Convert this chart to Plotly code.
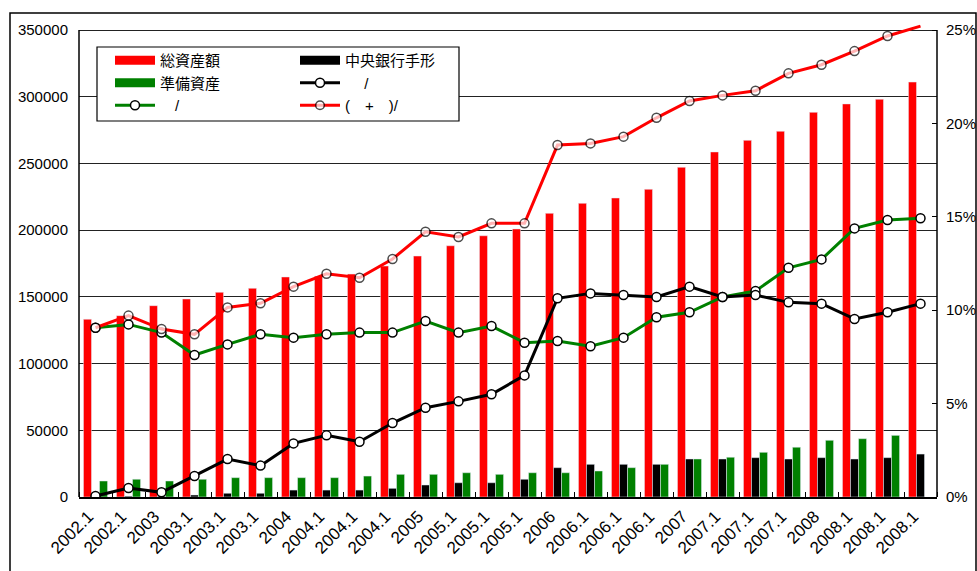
import plotly.graph_objects as go

# Period labels along the bottom axis
periods = ["2002.1", "2002.1", "2003", "2003.1", "2003.1", "2003.1",
           "2004", "2004.1", "2004.1", "2004.1", "2005", "2005.1",
           "2005.1", "2005.1", "2006", "2006.1", "2006.1", "2006.1",
           "2007", "2007.1", "2007.1", "2007.1", "2008", "2008.1",
           "2008.1", "2008.1"]

# Bars (left axis)
total_assets = [133200, 135900, 143400, 148400, 153400, 156400, 164900, 165500,
                167100, 173100, 180600, 188300, 195800, 200900, 212600, 220100,
                224100, 230600, 247100, 258600, 267300, 274100, 288300, 294600,
                298100, 311000]
cb_bills = [100, 650, 350, 1500, 2800, 2800, 5200, 5200, 5200, 6500, 9000,
            10700, 10700, 13300, 22000, 24500, 24500, 24500, 28500, 28500,
            29500, 28500, 29500, 28500, 29500, 32200]
reserves = [12000, 13300, 12000, 13300, 14500, 14500, 14500, 14500, 15700,
            17000, 17000, 18200, 17000, 18200, 18200, 19500, 22000, 24500,
            28500, 29800, 33500, 37300, 42500, 43700, 46200, None]

# Ratios in percent (right axis)
ratio_bills = [0.05, 0.48, 0.25, 1.12, 2.03, 1.68, 2.87, 3.30, 2.96, 3.96,
               4.78, 5.12, 5.50, 6.51, 10.64, 10.90, 10.81, 10.71, 11.26,
               10.71, 10.81, 10.42, 10.35, 9.53, 9.89, 10.35]
ratio_reserves = [9.06, 9.24, 8.80, 7.60, 8.17, 8.71, 8.53, 8.71, 8.80, 8.80,
                  9.42, 8.80, 9.15, 8.26, 8.35, 8.07, 8.53, 9.62, 9.89, 10.71,
                  11.03, 12.27, 12.72, 14.38, 14.83, 14.92]
ratio_sum = [9.06, 9.71, 8.99, 8.71, 10.15, 10.37, 11.26, 11.95, 11.74, 12.74,
             14.20, 13.92, 14.65, 14.65, 18.84, 18.93, 19.29, 20.30, 21.20,
             21.50, 21.75, 22.68, 23.14, 23.87, 24.68, 25.21]

left_ticks = list(range(0, 350001, 50000))
right_ticks = [0, 5, 10, 15, 20, 25]
right_ticktext = [f"{v}%" for v in right_ticks]

x = list(range(len(periods)))

W, H = 977, 571
M_L, M_R, M_T, M_B = 79, 40, 20, 74
plot_w = W - M_L - M_R
plot_h = H - M_T - M_B
# 350000 / 25% sit 10 px below the top of the drawing area
scale_top = plot_h / (plot_h - 10)
y_max = 350000 * scale_top
y2_max = 25 * scale_top


def px_x(p):
    return (p - M_L) / plot_w


def px_y(p):
    return (H - M_B - p) / plot_h


FONT = "Liberation Sans, Arial, Noto Sans CJK JP, sans-serif"
RED, GREEN, BLACK = "#FF0000", "#008000", "#000000"

fig = go.Figure()

bar_series = [("総資産額", total_assets, RED, "legend"),
              ("中央銀行手形", cb_bills, BLACK, "legend2"),
              ("準備資産", reserves, GREEN, "legend")]

for name, vals, color, _ in bar_series:
    fig.add_trace(go.Bar(x=x, y=vals, name=name, marker_color=color,
                         showlegend=False))

# Wide swatches for the bar entries in the key
for name, _, color, leg in bar_series:
    fig.add_trace(go.Scatter(x=[None], y=[None], name=name, mode="lines",
                             line=dict(color=color, width=9), legend=leg))

marker_style = dict(symbol="circle", size=9, color="white",
                    line=dict(color=BLACK, width=1.5))

fig.add_trace(go.Scatter(x=x, y=ratio_reserves, yaxis="y2", name="\u3000/",
                         mode="lines+markers", line=dict(color=GREEN, width=3),
                         marker=marker_style, legend="legend"))
fig.add_trace(go.Scatter(x=x, y=ratio_bills, yaxis="y2", name="\u3000 /",
                         mode="lines+markers", line=dict(color=BLACK, width=3),
                         marker=marker_style, legend="legend2"))
sum_sizes = [9] * (len(ratio_sum) - 1) + [0]
fig.add_trace(go.Scatter(x=x, y=ratio_sum, yaxis="y2", name="(\u3000+\u3000)/",
                         mode="lines+markers", line=dict(color=RED, width=3),
                         marker=dict(marker_style, size=sum_sizes),
                         legend="legend2"))

shapes = [
    # outer frame
    dict(type="rect", xref="paper", yref="paper",
         x0=px_x(10), x1=px_x(976), y0=px_y(590), y1=px_y(13),
         line=dict(color=BLACK, width=1.5), fillcolor="rgba(0,0,0,0)",
         layer="below"),
    # plot box sides
    dict(type="line", xref="paper", yref="y", x0=0, x1=0, y0=0, y1=350000,
         line=dict(color=BLACK, width=1.5)),
    dict(type="line", xref="paper", yref="y", x0=1, x1=1, y0=0, y1=350000,
         line=dict(color=BLACK, width=1.5)),
    # legend frame
    dict(type="rect", xref="paper", yref="paper",
         x0=px_x(97), x1=px_x(459), y0=px_y(121), y1=px_y(47),
         line=dict(color=BLACK, width=1.2), fillcolor="white", layer="above"),
]

legend_common = dict(font=dict(family=FONT, size=15, color=BLACK),
                     bgcolor="rgba(0,0,0,0)", borderwidth=0,
                     orientation="v", xanchor="left", yanchor="top",
                     itemwidth=40, tracegroupgap=0, traceorder="normal")

fig.update_layout(
    width=W, height=H,
    margin=dict(l=M_L, r=M_R, t=M_T, b=M_B, autoexpand=False),
    paper_bgcolor="white", plot_bgcolor="white",
    font=dict(family=FONT, size=15, color=BLACK),
    barmode="group", bargap=0.27, bargroupgap=0,
    showlegend=True,
    legend=dict(legend_common, x=px_x(110), y=px_y(44)),
    legend2=dict(legend_common, x=px_x(295), y=px_y(44)),
    xaxis=dict(range=[-0.5, len(periods) - 0.5], tickmode="array",
               tickvals=x, ticktext=periods, tickangle=-45,
               tickfont=dict(family=FONT, size=17), ticks="",
               ticklabelstandoff=1, ticklabelshift=-7,
               showline=True, linecolor=BLACK, linewidth=2,
               showgrid=False, zeroline=False,
               minor=dict(tick0=-0.5, dtick=1, ticks="inside", ticklen=5,
                          tickcolor=BLACK, tickwidth=1)),
    yaxis=dict(range=[0, y_max], tickmode="array", tickvals=left_ticks,
               ticktext=[str(v) for v in left_ticks],
               tickfont=dict(family=FONT, size=15), ticks="",
               ticklabelstandoff=10,
               showgrid=True, gridcolor="#222222", gridwidth=1,
               zeroline=False, showline=False),
    yaxis2=dict(range=[0, y2_max], overlaying="y", side="right",
                tickmode="array", tickvals=right_ticks,
                ticktext=right_ticktext, tickfont=dict(family=FONT, size=15),
                ticks="inside", ticklen=5, tickcolor=BLACK,
                ticklabelstandoff=8,
                showgrid=False, zeroline=False, showline=False),
    shapes=shapes,
)

fig.write_html("out.html")
